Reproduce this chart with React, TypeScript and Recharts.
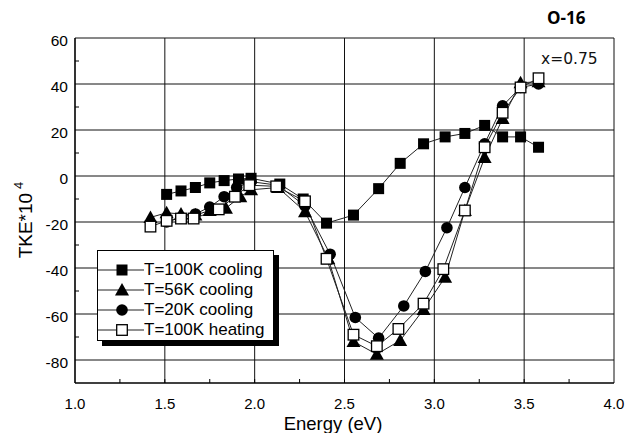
import React from "react";
import { LineChart, Line, XAxis, YAxis, CartesianGrid } from "recharts";

// axis ticks (minor + major) and grid positions
const xTicks = [1.0, 1.25, 1.5, 1.75, 2.0, 2.25, 2.5, 2.75, 3.0, 3.25, 3.5, 3.75, 4.0];
const yTicks = [-80, -70, -60, -50, -40, -30, -20, -10, 0, 10, 20, 30, 40, 50, 60];
const xGrid = [1.5, 2.0, 2.5, 3.0, 3.5, 4.0];
const yGrid = [-80, -60, -40, -20, 0, 20, 40, 60];

// T=100K cooling
const cool100X = [1.51, 1.59, 1.67, 1.75, 1.83, 1.91, 1.98, 2.14, 2.27, 2.4, 2.55, 2.69, 2.81, 2.94, 3.06, 3.17, 3.28, 3.38, 3.48, 3.58];
const cool100Y = [-8, -6.5, -5, -3, -2, -1.3, -1, -3.5, -10, -20.5, -17, -5.5, 5.5, 14, 17, 18.5, 22, 17, 17, 12.5];

// T=56K cooling
const cool56X = [1.42, 1.51, 1.59, 1.67, 1.75, 1.84, 1.92, 1.98, 2.13, 2.28, 2.41, 2.55, 2.68, 2.81, 2.94, 3.06, 3.17, 3.28, 3.38, 3.48, 3.58];
const cool56Y = [-18, -16, -16.5, -17, -15, -14, -9, -6, -5, -15.5, -36, -72, -77.5, -71.5, -58, -44, -15, 8, 25, 40.5, 41];

// T=20K cooling
const cool20X = [1.51, 1.59, 1.67, 1.75, 1.83, 1.9, 1.98, 2.13, 2.28, 2.42, 2.56, 2.69, 2.83, 2.95, 3.07, 3.17, 3.28, 3.38, 3.48, 3.58];
const cool20Y = [-20, -18, -16.5, -13.5, -9, -5, -2.5, -4, -13, -34, -61.5, -70.5, -56.5, -41.5, -22.5, -5, 14, 30.5, 38.5, 40];

// T=100K heating
const heat100X = [1.42, 1.51, 1.59, 1.66, 1.8, 1.89, 1.97, 2.12, 2.28, 2.4, 2.55, 2.68, 2.8, 2.94, 3.05, 3.17, 3.28, 3.38, 3.48, 3.58];
const heat100Y = [-22, -19.5, -18.5, -18.5, -14.5, -9, -4, -4.5, -11, -36, -69, -74, -66.5, -55.5, -40.5, -15, 12.5, 27.5, 38.5, 42.5];

const toPoints = (xs: number[], ys: number[]) => xs.map((x, i) => ({ x, y: ys[i] }));

const FONT = "'Liberation Sans', Arial, Helvetica, sans-serif";

type Shape = "square" | "triangle" | "circle" | "open";

function Marker({ shape, cx, cy }: { shape: Shape; cx: number; cy: number }) {
  if (shape === "square") return <rect x={cx - 5.5} y={cy - 5.5} width={11} height={11} fill="#000" />;
  if (shape === "triangle")
    return <polygon points={`${cx},${cy - 7} ${cx - 7},${cy + 5.5} ${cx + 7},${cy + 5.5}`} fill="#000" />;
  if (shape === "circle") return <circle cx={cx} cy={cy} r={5.8} fill="#000" />;
  return <rect x={cx - 5.3} y={cy - 5.3} width={10.6} height={10.6} fill="#fff" stroke="#000" strokeWidth={1.3} />;
}

const dotFor = (shape: Shape) => (p: any) =>
  <Marker key={p.key ?? `${shape}-${p.index}`} shape={shape} cx={p.cx} cy={p.cy} />;

const series = [
  { name: "T=100K cooling", shape: "square" as Shape, data: toPoints(cool100X, cool100Y) },
  { name: "T=56K cooling", shape: "triangle" as Shape, data: toPoints(cool56X, cool56Y) },
  { name: "T=20K cooling", shape: "circle" as Shape, data: toPoints(cool20X, cool20Y) },
  { name: "T=100K heating", shape: "open" as Shape, data: toPoints(heat100X, heat100Y) },
];

const XTick = (props: any) => {
  const { x, y, payload } = props;
  const v = payload.value;
  const major = Math.abs(v * 2 - Math.round(v * 2)) < 1e-6;
  return (
    <g>
      {v > 1 && v < 4 && <line x1={x} x2={x} y1={y} y2={y - 4} stroke="#000" />}
      {major && (
        <text x={x} y={y + 26} textAnchor="middle" fontFamily={FONT} fontSize={15} fill="#000">
          {v.toFixed(1)}
        </text>
      )}
    </g>
  );
};

const YTick = (props: any) => {
  const { x, y, payload } = props;
  const v = payload.value;
  const major = v % 20 === 0;
  return (
    <g>
      {!major && <line x1={x} x2={x + 4} y1={y} y2={y} stroke="#000" />}
      {major && (
        <text x={x - 7} y={y + 8} textAnchor="end" fontFamily={FONT} fontSize={15.5} fill="#000">
          {v}
        </text>
      )}
    </g>
  );
};

const YLabel = () => (
  <text transform="rotate(-90, 32, 220)" x={32} y={220} textAnchor="middle" fontFamily={FONT} fontSize={19} fill="#000">
    TKE*10
    <tspan fontSize={13} dx={4} dy={-9}>4</tspan>
  </text>
);

const XLabel = () => (
  <text x={333} y={430} textAnchor="middle" fontFamily={FONT} fontSize={18.5} fill="#000">
    Energy (eV)
  </text>
);

export default function App() {
  return (
    <div style={{ position: "absolute", left: 0, top: 0, width: 625, height: 433, background: "#fff" }}>
      <LineChart width={625} height={433} margin={{ top: 38, right: 11, left: 0, bottom: 0 }}>
        <CartesianGrid stroke="#111" strokeWidth={1} horizontalValues={yGrid} verticalValues={xGrid} />
        <XAxis
          type="number"
          dataKey="x"
          domain={[1, 4]}
          ticks={xTicks}
          interval={0}
          height={50}
          tickSize={0}
          tickMargin={0}
          tickLine={false}
          tick={XTick}
          axisLine={{ stroke: "#000", strokeWidth: 1.6 }}
          allowDuplicatedCategory={false}
          label={{ content: XLabel }}
        />
        <YAxis
          type="number"
          domain={[-90, 60]}
          ticks={yTicks}
          interval={0}
          width={75}
          tickSize={0}
          tickMargin={0}
          tickLine={false}
          tick={YTick}
          axisLine={{ stroke: "#000", strokeWidth: 1.6 }}
          label={{ content: YLabel }}
        />
        {series.map((s) => (
          <Line
            key={s.name}
            data={s.data}
            dataKey="y"
            name={s.name}
            stroke="#222"
            strokeWidth={1}
            dot={dotFor(s.shape)}
            activeDot={false}
            isAnimationActive={false}
          />
        ))}
      </LineChart>

      <div
        style={{
          position: "absolute",
          left: 547,
          top: 7,
          fontFamily: "'Open Sans', 'DejaVu Sans', sans-serif",
          fontWeight: 700,
          fontSize: 17,
          lineHeight: "22px",
          color: "#000",
        }}
      >
        O-16
      </div>
      <div
        style={{
          position: "absolute",
          left: 541,
          top: 49,
          fontFamily: "'DejaVu Sans', sans-serif",
          fontSize: 15.5,
          lineHeight: "20px",
          color: "#111",
        }}
      >
        x=0.75
      </div>

      <div
        style={{
          position: "absolute",
          left: 97,
          top: 250,
          width: 177,
          height: 91,
          border: "1px solid #000",
          background: "#fff",
          boxShadow: "5px 5px 0 #000",
          paddingTop: 9,
          boxSizing: "border-box",
        }}
      >
        {series.map((s) => (
          <div key={s.name} style={{ display: "flex", alignItems: "center", height: 20 }}>
            <svg width={46} height={20} style={{ display: "block" }}>
              <line x1={0} x2={46} y1={10} y2={10} stroke="#222" strokeWidth={1} />
              <Marker shape={s.shape} cx={24} cy={10} />
            </svg>
            <span style={{ fontFamily: FONT, fontSize: 17, color: "#000", whiteSpace: "nowrap" }}>{s.name}</span>
          </div>
        ))}
      </div>
    </div>
  );
}
